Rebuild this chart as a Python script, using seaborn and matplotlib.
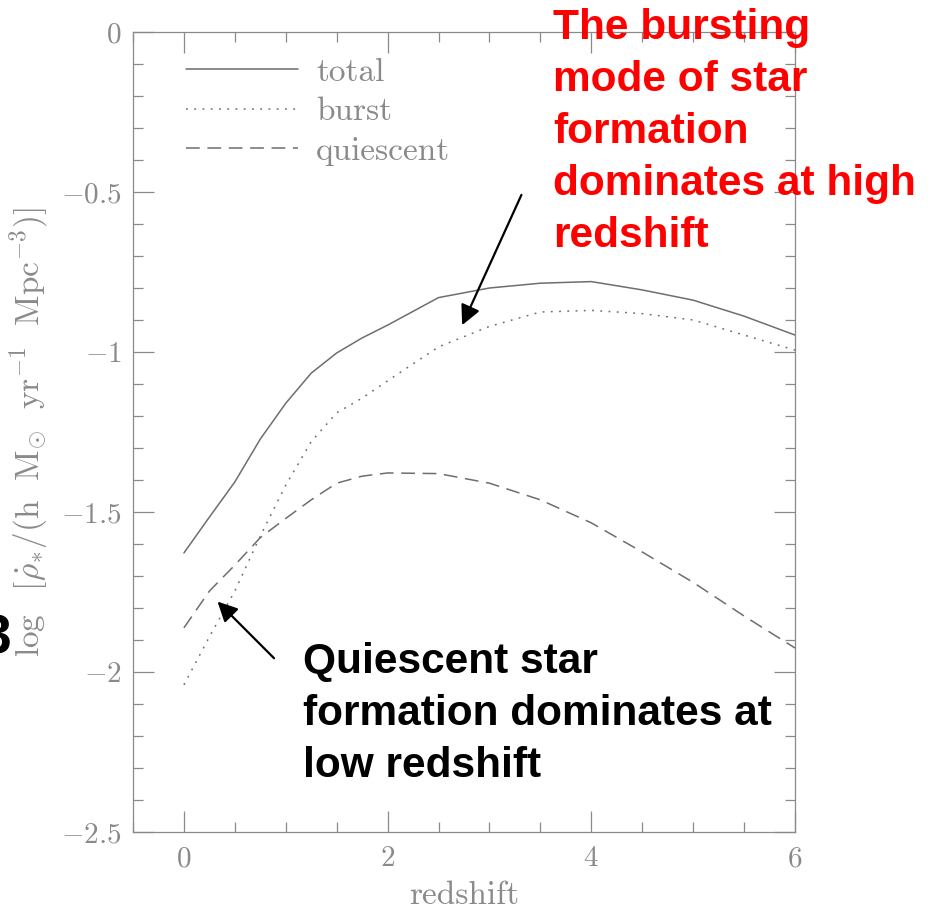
import matplotlib
matplotlib.use("Agg")
import matplotlib.pyplot as plt
import seaborn as sns
import pandas as pd
from matplotlib.ticker import MultipleLocator

redshift = [0, 0.25, 0.5, 0.75, 1.0, 1.25, 1.5, 1.75, 2.0, 2.5, 3.0, 3.5, 4.0, 4.5, 5.0, 5.5, 6.0]
total = [-1.628, -1.516, -1.406, -1.272, -1.160, -1.066, -1.003, -0.956, -0.916, -0.830, -0.800,
         -0.785, -0.780, -0.806, -0.838, -0.888, -0.947]
burst = [-2.040, -1.890, -1.747, -1.575, -1.416, -1.280, -1.190, -1.144, -1.090, -0.984, -0.920,
         -0.875, -0.870, -0.880, -0.900, -0.947, -0.994]
quiescent = [-1.862, -1.747, -1.666, -1.580, -1.520, -1.462, -1.410, -1.388, -1.378, -1.380, -1.410,
             -1.462, -1.534, -1.625, -1.720, -1.825, -1.925]
series_names = ["total", "burst", "quiescent"]
xticks = [0, 2, 4, 6]
xtick_labels = ["$0$", "$2$", "$4$", "$6$"]
yticks = [0, -0.5, -1, -1.5, -2, -2.5]
ytick_labels = ["$0$", "$-0.5$", "$-1$", "$-1.5$", "$-2$", "$-2.5$"]

sns.set_theme(style="ticks")
plt.rcParams["mathtext.fontset"] = "cm"
plt.rcParams["font.family"] = ["cmr10", "DejaVu Serif"]

df = pd.DataFrame({
    "redshift": redshift * 3,
    "value": total + burst + quiescent,
    "component": sum([[n] * len(redshift) for n in series_names], []),
})

fig = plt.figure(figsize=(9.35, 9.11), dpi=100)
ax = fig.add_axes([133 / 935, 1 - 832 / 911, (795 - 133) / 935, (832 - 32) / 911])

grey = "#6e6e6e"
styles = {"total": "-", "burst": (0, (1.2, 4.2)), "quiescent": (0, (9, 5))}
for name in series_names:
    sub = df[df["component"] == name]
    sns.lineplot(data=sub, x="redshift", y="value", ax=ax, color=grey, lw=1.1,
                 linestyle=styles[name], label=name)

ax.set_xlim(-0.5, 6)
ax.set_ylim(-2.5, 0)
ax.set_xticks(xticks)
ax.set_xticklabels(xtick_labels)
ax.set_yticks(yticks)
ax.set_yticklabels(ytick_labels)
ax.xaxis.set_minor_locator(MultipleLocator(0.5))
ax.yaxis.set_minor_locator(MultipleLocator(0.1))
ax.tick_params(which="both", direction="in", top=True, right=True, colors="#8a8a8a",
               labelcolor="#8a8a8a", labelsize=21, width=0.9)
ax.tick_params(which="major", length=15)
ax.tick_params(which="minor", length=7)
ax.tick_params(axis="x", pad=10)
ax.tick_params(axis="y", pad=8)
for s in ax.spines.values():
    s.set_color("#8a8a8a")
    s.set_linewidth(0.9)

ax.set_xlabel("redshift", fontsize=24, color="#8a8a8a", labelpad=6)
ax.set_ylabel(r"$\log\ \ [\dot{\rho}_{\ast}/({\rm h\ \ M_{\odot}\ \ yr^{-1}\ \ Mpc^{-3}})]$",
              fontsize=24, color="#8a8a8a", labelpad=8)

leg = ax.legend(loc="upper left", bbox_to_anchor=(0.08, 0.968), frameon=False,
                fontsize=24, handlelength=3.36, handletextpad=0.54, labelspacing=0.3,
                borderpad=0, borderaxespad=0)
for t in leg.get_texts():
    t.set_color("#8a8a8a")

ann_font = ["Liberation Sans", "DejaVu Sans"]
fig.text(553 / 935, 1 - 247 / 911,
         "The bursting\nmode of star\nformation\ndominates at high\nredshift",
         color="#ff0000", fontsize=30.5, fontweight="bold", family=ann_font,
         ha="left", va="baseline", linespacing=1.39)
fig.text(303 / 935, 1 - 777 / 911,
         "Quiescent star\nformation dominates at\nlow redshift",
         color="black", fontsize=30.5, fontweight="bold", family=ann_font,
         ha="left", va="baseline", linespacing=1.39)
fig.text(11 / 935, 1 - 653 / 911, "3", color="black", fontsize=40, fontweight="bold",
         family=ann_font, ha="right", va="baseline")

ax.annotate("", xy=(2.732, -0.916), xytext=(3.314, -0.509), xycoords="data",
            arrowprops=dict(arrowstyle="-|>", color="black", lw=1.6, mutation_scale=30,
                            shrinkA=0, shrinkB=0), annotation_clip=False)
ax.annotate("", xy=(0.330, -1.780), xytext=(0.885, -1.957), xycoords="data",
            arrowprops=dict(arrowstyle="-|>", color="black", lw=1.6, mutation_scale=30,
                            shrinkA=0, shrinkB=0), annotation_clip=False)

fig.savefig("out.png", dpi=100)
